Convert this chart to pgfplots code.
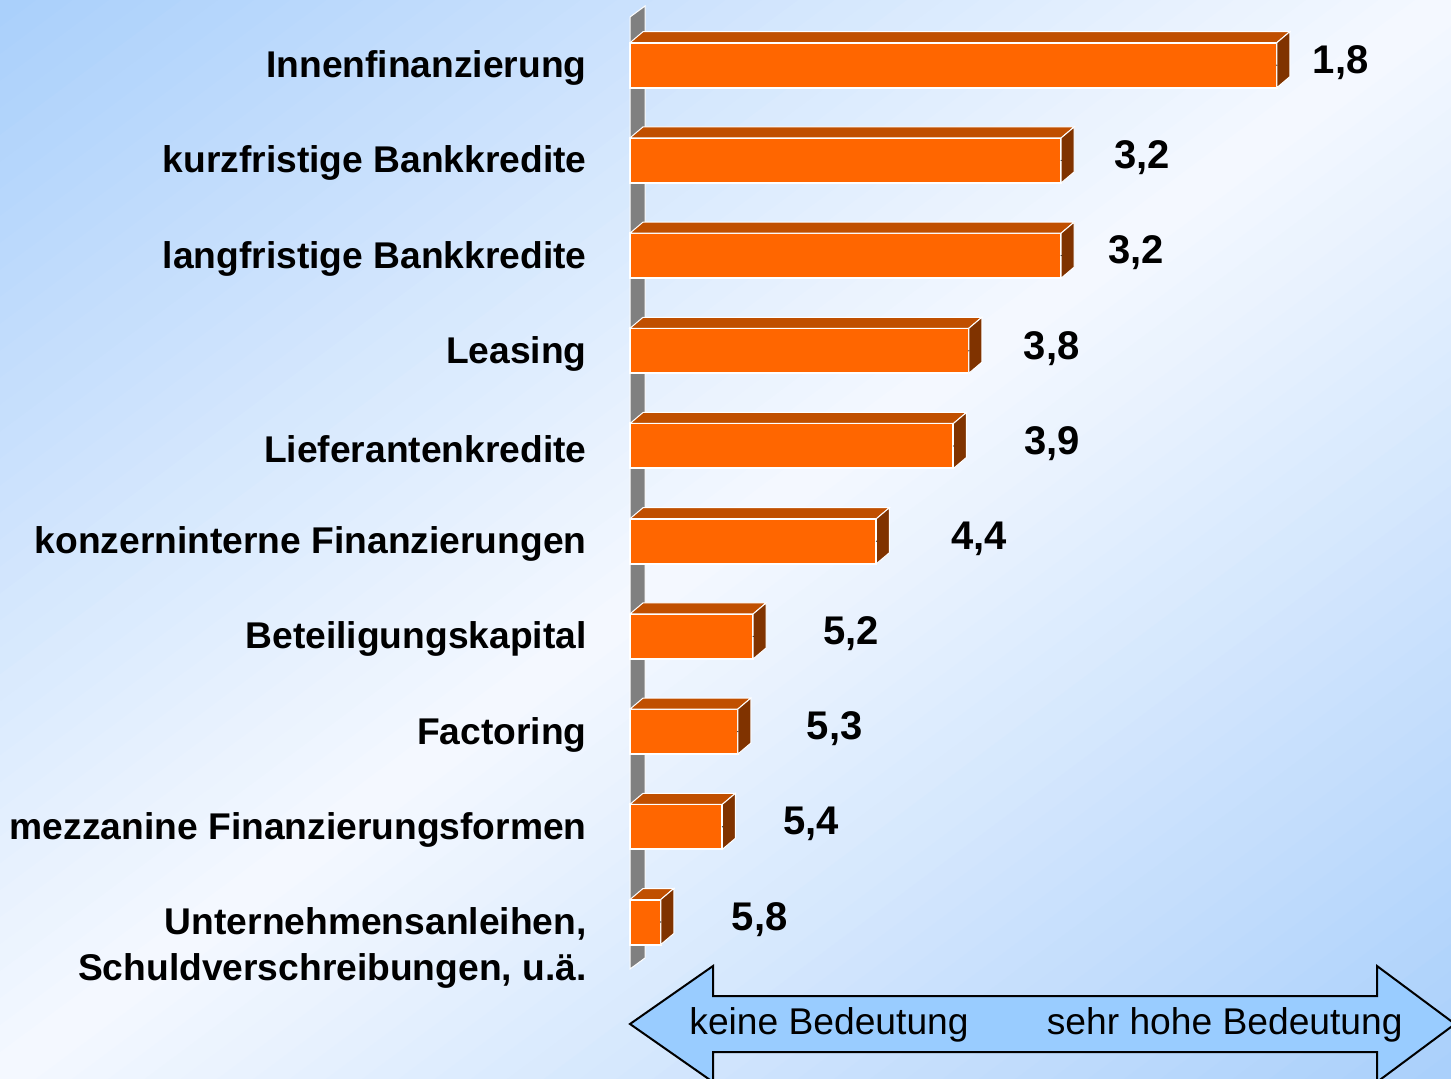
\documentclass[border=0pt]{standalone}
\usepackage{fontspec}
\setmainfont{Liberation Sans}
\usepackage{pgfplots}
\pgfplotsset{compat=1.18}
\usepackage{pgfplotstable}

\definecolor{barfront}{HTML}{FF6600}
\definecolor{bartop}{HTML}{C04F00}
\definecolor{barside}{HTML}{803300}
\definecolor{bgblue}{HTML}{A9CFFB}
\definecolor{bgwhite}{HTML}{F5F9FF}
\definecolor{arrowblue}{HTML}{99CCFF}
\definecolor{wallgray}{HTML}{808080}

% i = row (top to bottom), v = mean rating (1 = sehr hohe, 6 = keine Bedeutung), lx = label offset (pt)
\pgfplotstableread{
i v lx
0 1.8 17.5
1 3.2 26
2 3.2 23
3 3.8 27
4 3.9 35
5 4.4 37
6 5.2 34.5
7 5.3 34
8 5.4 30
9 5.8 35
}\datatable

\begin{document}
\begin{tikzpicture}
\begin{scope}[x=0.5pt,y=-0.5pt]
\path[use as bounding box] (0,0) rectangle (1451,1079);
\begin{scope}
\clip (0,0) rectangle (1451,1079);
\foreach \k in {0,...,79}{
  \pgfmathsetmacro\ca{\k/40}
  \pgfmathsetmacro\cb{(\k+1.15)/40}
  \pgfmathsetmacro\p{min(100,abs(1-(\k+0.5)/40)*100)}
  \fill[bgblue!\p!bgwhite] ({\ca*1451},0) -- ({\cb*1451},0) -- (0,{\cb*1079}) -- (0,{\ca*1079}) -- cycle;
}
\end{scope}
% wall
\fill[wallgray, draw=white, line width=0.5pt] (630,17) -- (645,6) -- (645,958) -- (630,969) -- cycle;
% arrow
\draw[fill=arrowblue, line width=1pt, line join=miter] (630,1024) -- (713,966) -- (713,996) -- (1377,996) -- (1377,966) -- (1455,1024) -- (1377,1082) -- (1377,1052) -- (713,1052) -- (713,1082) -- cycle;
\node[anchor=west, font=\fontsize{18.6}{22}\selectfont, inner sep=0pt] at (689,1025) {keine Bedeutung};
\node[anchor=east, font=\fontsize{18.6}{22}\selectfont, inner sep=0pt] at (1403,1025) {sehr hohe Bedeutung};
\end{scope}

\begin{axis}[
  at={(315pt,-484.8pt)}, anchor=south west,
  x=77pt, y=47.6pt,
  xmin=0, xmax=5.3, ymin=-9.5, ymax=0.5,
  axis line style={draw=none}, tick style={draw=none},
  xtick=\empty,
  ytick={-9,-8,...,0},
  yticklabels={
    {\raisebox{-4.6pt}[0pt][0pt]{\begin{tabular}[t]{@{}r@{}}Unternehmensanleihen,\\Schuldverschreibungen, u.ä.\end{tabular}}},
    mezzanine Finanzierungsformen,
    Factoring,
    Beteiligungskapital,
    konzerninterne Finanzierungen,
    Lieferantenkredite,
    Leasing,
    langfristige Bankkredite,
    kurzfristige Bankkredite,
    Innenfinanzierung},
  yticklabel style={anchor=east, inner sep=0pt, xshift=-21.5pt, yshift=-1.5pt, font=\fontsize{18.6}{23}\selectfont\bfseries},
  /pgf/number format/assume math mode=true,
  clip=false,
]
% top and side faces of the 3D bars
\addplot[scatter, only marks, mark=*, mark size=0.01pt,
  visualization depends on={\thisrow{v} \as \val},
  scatter/@pre marker code/.code={%
    \pgfmathsetmacro\L{(6-\val)*77}%
    \fill[bartop, draw=white, line width=0.5pt] ({-\L*1pt},11.25pt) -- (0pt,11.25pt) -- (6.5pt,16.75pt) -- ({(6.5-\L)*1pt},16.75pt) -- cycle;
    \fill[barside, draw=white, line width=0.5pt] (0pt,-11.25pt) -- (0pt,11.25pt) -- (6.5pt,16.75pt) -- (6.5pt,-5.75pt) -- cycle;
  },
  scatter/@post marker code/.code={},
] table[x expr=6-\thisrow{v}, y expr=-\thisrow{i}] {\datatable};
% front faces
\addplot[xbar, bar width=22.5pt, fill=barfront, draw=white, line width=1pt,
  point meta=explicit,
  visualization depends on={\thisrow{lx} \as \lx},
  nodes near coords={\pgfmathprintnumber[fixed, fixed zerofill, precision=1, use comma]{\pgfplotspointmeta}},
  every node near coord/.append style={anchor=west, inner sep=0pt, xshift=\lx pt, yshift=1.3pt,
    font=\fontsize{20}{22}\selectfont\bfseries, text=black},
] table[x expr=6-\thisrow{v}, y expr=-\thisrow{i}, meta=v] {\datatable};
\end{axis}
\end{tikzpicture}
\end{document}
